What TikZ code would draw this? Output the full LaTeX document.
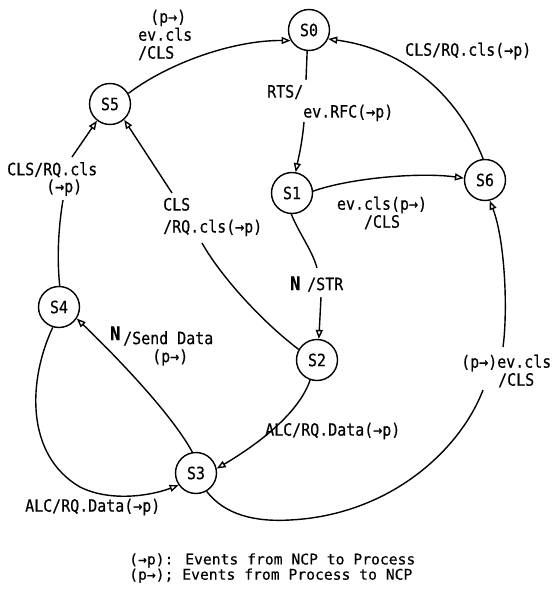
\documentclass[tikz,border=0pt]{standalone}
\usepackage{fontspec}
\usetikzlibrary{arrows.meta}
\newfontfamily\labfont[FakeStretch=0.88,FakeBold=0.4]{DejaVu Sans Mono}
\newfontfamily\legfont[FakeBold=0.3]{DejaVu Sans Mono}
\begin{document}
\begin{tikzpicture}[x=1pt,y=-1pt,
  state/.style={circle,draw,line width=1.4pt,minimum size=41pt,inner sep=0pt,font=\labfont\fontsize{17}{17}\selectfont},
  lab/.style={inner sep=0pt,font=\labfont\fontsize{17}{18}\selectfont,align=left},
  leg/.style={inner sep=0pt,font=\legfont\fontsize{14.7}{14}\selectfont,align=left},
  edge/.style={line width=1.4pt},
  arr/.style={edge,-{Triangle[open,length=9pt,width=7pt]}}]
\useasboundingbox (0,0) rectangle (553,591);
% states
\node[state] (S0) at (309,30) {S0};
\node[state] (S1) at (292,193) {S1};
\node[state] (S2) at (317,360) {S2};
\node[state] (S3) at (196,473) {S3};
\node[state] (S4) at (59,307) {S4};
\node[state] (S5) at (110,104) {S5};
\node[state] (S6) at (485,180) {S6};
% labels
\node[lab,anchor=west] (l50) at (138,35) {\hspace*{12pt}(p→)\\ev.cls\\/CLS};
\node[lab,anchor=west] (l01) at (267,103) {RTS/\\[2pt]\hspace*{36pt}ev.RFC(→p)};
\node[lab,anchor=west] (l60) at (405,51) {CLS/RQ.cls(→p)};
\node[lab,align=center] (l16) at (382,213) {ev.cls(p→)\\/CLS};
\node[lab,anchor=west] (l12) at (290,284) {\makebox[17pt][l]{\bfseries\fontsize{19}{19}\selectfont N}/STR};
\node[lab,anchor=west] (l25) at (163,217) {CLS\\[4pt]/RQ.cls(→p)};
\node[lab,anchor=west] (l45) at (7,179) {CLS/RQ.cls\\[-1pt]\hspace*{39pt}(→p)};
\node[lab,anchor=west] (l34) at (110,346) {\makebox[13pt][l]{\raisebox{4pt}{\bfseries\fontsize{19}{19}\selectfont N}}/Send Data\\\hspace*{42pt}(p→)};
\node[lab,anchor=west] (l43) at (25,507) {ALC/RQ.Data(→p)};
\node[lab,anchor=west] (l23) at (265,431) {ALC/RQ.Data(→p)};
\node[lab,anchor=west] (l36) at (461,371) {(p→)ev.cls\\\hspace*{37pt}/CLS};
\node[leg,anchor=west] (leg) at (129,568) {(→p): Events from NCP to Process\\(p→); Events from Process to NCP};
% free ends at label gaps
\coordinate (a1) at (306,80);
\coordinate (a2) at (304,122);
\coordinate (b1) at (317,268);
\coordinate (b2) at (321,297);
\coordinate (c1) at (202,243);
\coordinate (c2) at (172,193);
\coordinate (d1) at (63,200);
\coordinate (d2) at (72,157);
\coordinate (e1) at (483,390);
\coordinate (e2) at (503,347);
% transitions
\draw[arr] (S5.30) .. controls (170,62) and (235,40) .. (S0.210);
\draw[edge] (S0.265) -- (a1);
\draw[arr] (a2) .. controls (302,145) and (298,160) .. (S1.80);
\draw[arr] (S6.95) .. controls (460,100) and (410,50) .. (S0.335);
\draw[arr] (S1.5) .. controls (350,178) and (420,172) .. (S6.175);
\draw[edge] (S1.268) .. controls (300,235) and (312,250) .. (b1);
\draw[arr] (b2) -- (S2.85);
\draw[edge] (S2.150) .. controls (260,320) and (220,275) .. (c1);
\draw[arr] (c2) -- (S5.312);
\draw[edge] (S4.88) .. controls (57,260) and (58,230) .. (d1);
\draw[arr] (d2) -- (S5.232);
\draw[arr] (S3.100) .. controls (175,420) and (130,370) .. (S4.327);
\draw[arr] (S4.253) .. controls (28,380) and (25,455) .. (80,487) .. controls (110,502) and (150,496) .. (S3.215);
\draw[arr] (S2.251) .. controls (300,410) and (265,440) .. (S3.12);
\draw[edge] (S3.300) .. controls (225,515) and (255,522) .. (290,520) .. controls (390,515) and (460,450) .. (e1);
\draw[arr] (e2) .. controls (508,310) and (505,240) .. (S6.283);
\end{tikzpicture}
\end{document}
